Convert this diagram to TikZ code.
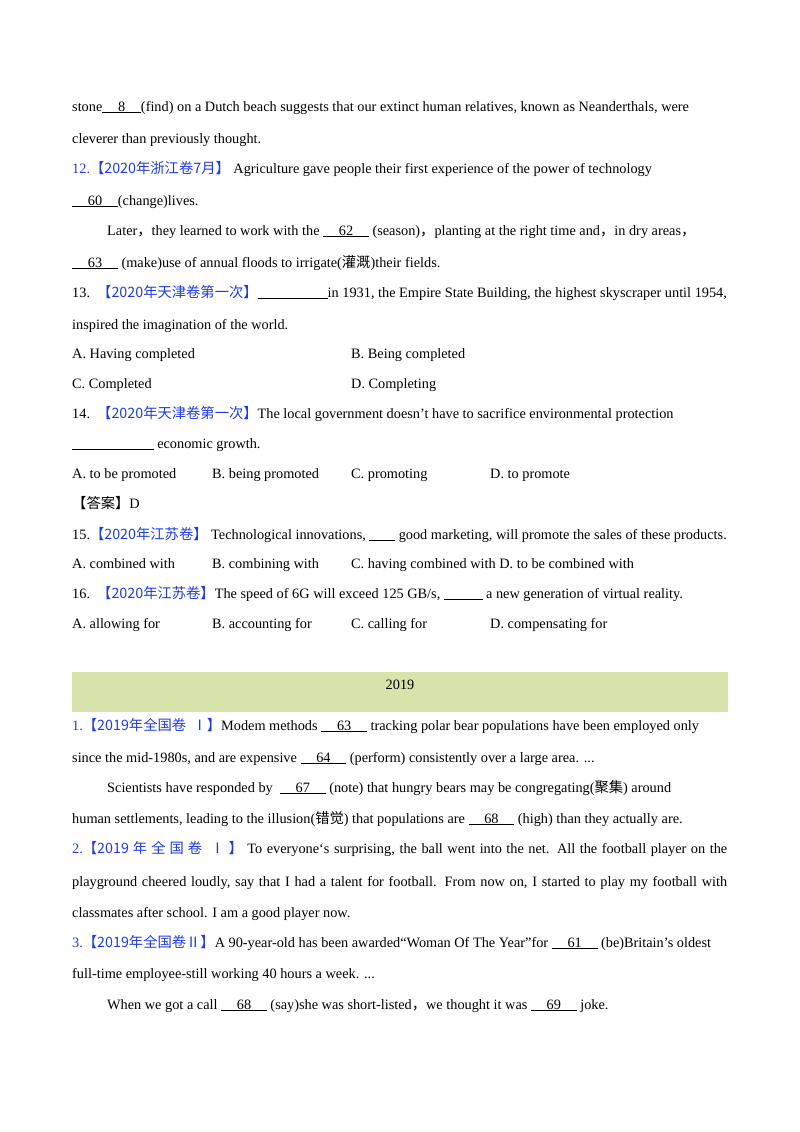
\documentclass[tikz,border=0pt]{standalone}
\usepackage{fontspec}
\setmainfont{Liberation Serif}
\newfontfamily\cjk{Noto Sans CJK SC}
\definecolor{qblue}{RGB}{30,60,230}
\definecolor{bargreen}{RGB}{214,227,170}
\newcommand{\bl}[1]{\underline{\hspace{1.1em}#1\hspace{1.1em}}}
\newcommand{\tag}[1]{\textcolor{qblue}{#1}}
\begin{document}
\begin{tikzpicture}[x=1pt,y=-1pt,
  ln/.style={anchor=base west,inner sep=0pt,font=\fontsize{14.3}{16}\selectfont},
  jl/.style={ln,text width=655pt,align=justify,execute at begin node={\parfillskip=0pt}}]
\useasboundingbox (0,0) rectangle (800,1132);
\fill[bargreen] (72,672) rectangle (728,712);
\node[ln] (l1) at (72,111) {stone\bl{8}(find) on a Dutch beach suggests that our extinct human relatives, known as Neanderthals, were};
\node[ln] (l2) at (72,143) {cleverer than previously thought.};
\node[ln] (l3) at (72,173) {\tag{12.{\cjk【2020年浙江卷7月】}} Agriculture gave people their first experience of the power of technology};
\node[ln] (l4) at (72,205) {\bl{60}(change)lives.};
\node[ln] (l5) at (107,235) {Later{\cjk，}they learned to work with the \bl{62} (season){\cjk，}planting at the right time and{\cjk，}in dry areas{\cjk，}};
\node[ln] (l6) at (72,267) {\bl{63} (make)use of annual floods to irrigate({\cjk 灌溉})their fields.};
\node[ln] (l7) at (72,297) {13.\ \ \tag{\cjk【2020年天津卷第一次】}\underline{\hspace{4.9em}}in 1931, the Empire State Building, the highest skyscraper until 1954,};
\node[ln] (l8) at (72,329) {inspired the imagination of the world.};
\node[ln] (a1) at (72,358) {A. Having completed};
\node[ln] (b1) at (351,358) {B. Being completed};
\node[ln] (c1) at (72,388) {C. Completed};
\node[ln] (d1) at (351,388) {D. Completing};
\node[ln] (l9) at (72,418) {14.\ \ \tag{\cjk【2020年天津卷第一次】}The local government doesn't have to sacrifice environmental protection};
\node[ln] (l10) at (72,448) {\underline{\hspace{5.7em}} economic growth.};
\node[ln] (a2) at (72,478) {A. to be promoted};
\node[ln] (b2) at (212,478) {B. being promoted};
\node[ln] (c2) at (351,478) {C. promoting};
\node[ln] (d2) at (490,478) {D. to promote};
\node[ln] (ans) at (72,508) {{\cjk【答案】}D};
\node[ln] (l11) at (72,539) {15.\tag{\cjk【2020年江苏卷】} Technological innovations, \underline{\hspace{1.8em}} good marketing, will promote the sales of these products.};
\node[ln] (a3) at (72,568) {A. combined with};
\node[ln] (b3) at (212,568) {B. combining with};
\node[ln] (c3) at (351,568) {C. having combined with D. to be combined with};
\node[ln] (l12) at (72,598) {16.\ \ \tag{\cjk【2020年江苏卷】}The speed of 6G will exceed 125 GB/s, \underline{\hspace{2.7em}} a new generation of virtual reality.};
\node[ln] (a4) at (72,628) {A. allowing for};
\node[ln] (b4) at (212,628) {B. accounting for};
\node[ln] (c4) at (351,628) {C. calling for};
\node[ln] (d4) at (490,628) {D. compensating for};
\node[ln,anchor=base] (yr) at (400,689) {2019};
\node[ln] (m1) at (72,730) {\tag{1.{\cjk【2019年全国卷\ \ Ⅰ】}}Modem methods \bl{63} tracking polar bear populations have been employed only};
\node[ln] (m2) at (72,762) {since the mid-1980s, and are expensive \bl{64} (perform) consistently over a large area. ...};
\node[ln] (m3) at (107,792) {Scientists have responded by \ \bl{67} (note) that hungry bears may be congregating({\cjk 聚集}) around};
\node[ln] (m4) at (72,823) {human settlements, leading to the illusion({\cjk 错觉}) that populations are \bl{68} (high) than they actually are.};
\node[jl] (m5) at (72,853) {\tag{2.{\cjk【2019 年 全 国 卷\ \ Ⅰ 】}} To everyone`s surprising, the ball went into the net. All the football player on the};
\node[jl] (m6) at (72,886) {playground cheered loudly, say that I had a talent for football. From now on, I started to play my football with};
\node[ln] (m7) at (72,917) {classmates after school. I am a good player now.};
\node[ln] (m8) at (72,947) {\tag{3.{\cjk【2019年全国卷Ⅱ】}}A 90-year-old has been awarded“Woman Of The Year”for \bl{61} (be)Britain's oldest};
\node[ln] (m9) at (72,978) {full-time employee-still working 40 hours a week. ...};
\node[ln] (m10) at (107,1009) {When we got a call \bl{68} (say)she was short-listed{\cjk，}we thought it was \bl{69} joke.};
\end{tikzpicture}
\end{document}
